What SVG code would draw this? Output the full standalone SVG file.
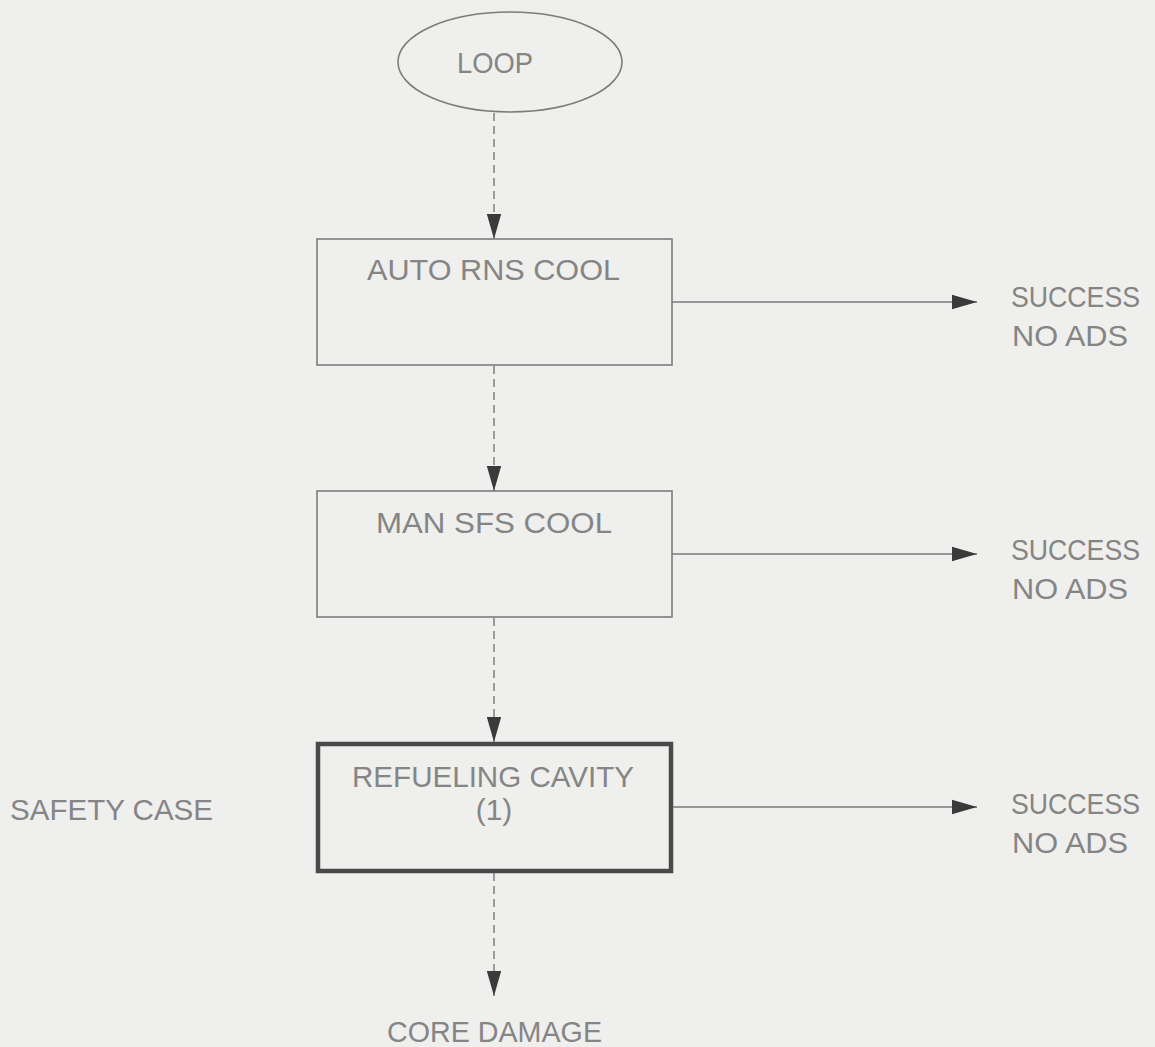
<svg xmlns="http://www.w3.org/2000/svg" width="1155" height="1047" viewBox="0 0 1155 1047">
  <defs>
    <marker id="head" markerUnits="userSpaceOnUse" markerWidth="26" markerHeight="16" refX="25" refY="8" orient="auto">
      <path d="M0,0.8 L25,8 L0,15.2 Z" fill="#3a3a3a"/>
    </marker>
    <style>
      .lbl { font-family: "Liberation Sans", Arial, sans-serif; font-size: 30px; fill: #858585; }
      .mid { text-anchor: middle; }
      .box { fill: none; stroke: #7c7c7c; stroke-width: 1.6; }
      .thick { fill: none; stroke: #4a4a4a; stroke-width: 4.5; }
      .flow { fill: none; stroke: #808080; stroke-width: 1.5; stroke-dasharray: 8 5; }
      .out { fill: none; stroke: #7a7a7a; stroke-width: 1.6; }
    </style>
  </defs>
  <rect width="1155" height="1047" fill="#efefed"/>

  <!-- initiating event -->
  <g id="loop">
    <ellipse cx="510" cy="62" rx="112" ry="50" class="box"/>
    <text x="495" y="73" class="lbl mid" textLength="76" lengthAdjust="spacingAndGlyphs">LOOP</text>
  </g>

  <g id="auto-rns-cool">
    <rect x="317" y="239" width="355" height="126" class="box"/>
    <text x="367" y="280" class="lbl" textLength="253" lengthAdjust="spacingAndGlyphs">AUTO RNS COOL</text>
  </g>

  <g id="man-sfs-cool">
    <rect x="317" y="491" width="355" height="126" class="box"/>
    <text x="376" y="533" class="lbl" textLength="236" lengthAdjust="spacingAndGlyphs">MAN SFS COOL</text>
  </g>

  <g id="refueling-cavity">
    <rect x="318" y="744" width="353" height="127" class="thick"/>
    <text x="352" y="787" class="lbl" textLength="282" lengthAdjust="spacingAndGlyphs">REFUELING CAVITY</text>
    <text x="494" y="820" class="lbl mid">(1)</text>
  </g>

  <g id="safety-case">
    <text x="10" y="820" class="lbl" textLength="203" lengthAdjust="spacingAndGlyphs">SAFETY CASE</text>
  </g>

  <g id="success-1">
    <text x="1011" y="307" class="lbl" textLength="129" lengthAdjust="spacingAndGlyphs">SUCCESS</text>
    <text x="1012" y="346" class="lbl" textLength="116" lengthAdjust="spacingAndGlyphs">NO ADS</text>
  </g>
  <g id="success-2">
    <text x="1011" y="560" class="lbl" textLength="129" lengthAdjust="spacingAndGlyphs">SUCCESS</text>
    <text x="1012" y="599" class="lbl" textLength="116" lengthAdjust="spacingAndGlyphs">NO ADS</text>
  </g>
  <g id="success-3">
    <text x="1011" y="814" class="lbl" textLength="129" lengthAdjust="spacingAndGlyphs">SUCCESS</text>
    <text x="1012" y="853" class="lbl" textLength="116" lengthAdjust="spacingAndGlyphs">NO ADS</text>
  </g>

  <g id="core-damage">
    <text x="387" y="1042" class="lbl" textLength="215" lengthAdjust="spacingAndGlyphs">CORE DAMAGE</text>
  </g>

  <!-- failure paths (dashed, downward) and success paths (solid, rightward) -->
  <g id="connectors">
    <line x1="494" y1="113" x2="494" y2="239" class="flow" marker-end="url(#head)"/>
    <line x1="494" y1="366" x2="494" y2="491" class="flow" marker-end="url(#head)"/>
    <line x1="494" y1="618" x2="494" y2="742" class="flow" marker-end="url(#head)"/>
    <line x1="494" y1="873" x2="494" y2="996" class="flow" marker-end="url(#head)"/>
    <line x1="672" y1="302" x2="977" y2="302" class="out" marker-end="url(#head)"/>
    <line x1="672" y1="554" x2="977" y2="554" class="out" marker-end="url(#head)"/>
    <line x1="673" y1="807" x2="977" y2="807" class="out" marker-end="url(#head)"/>
  </g>
</svg>
